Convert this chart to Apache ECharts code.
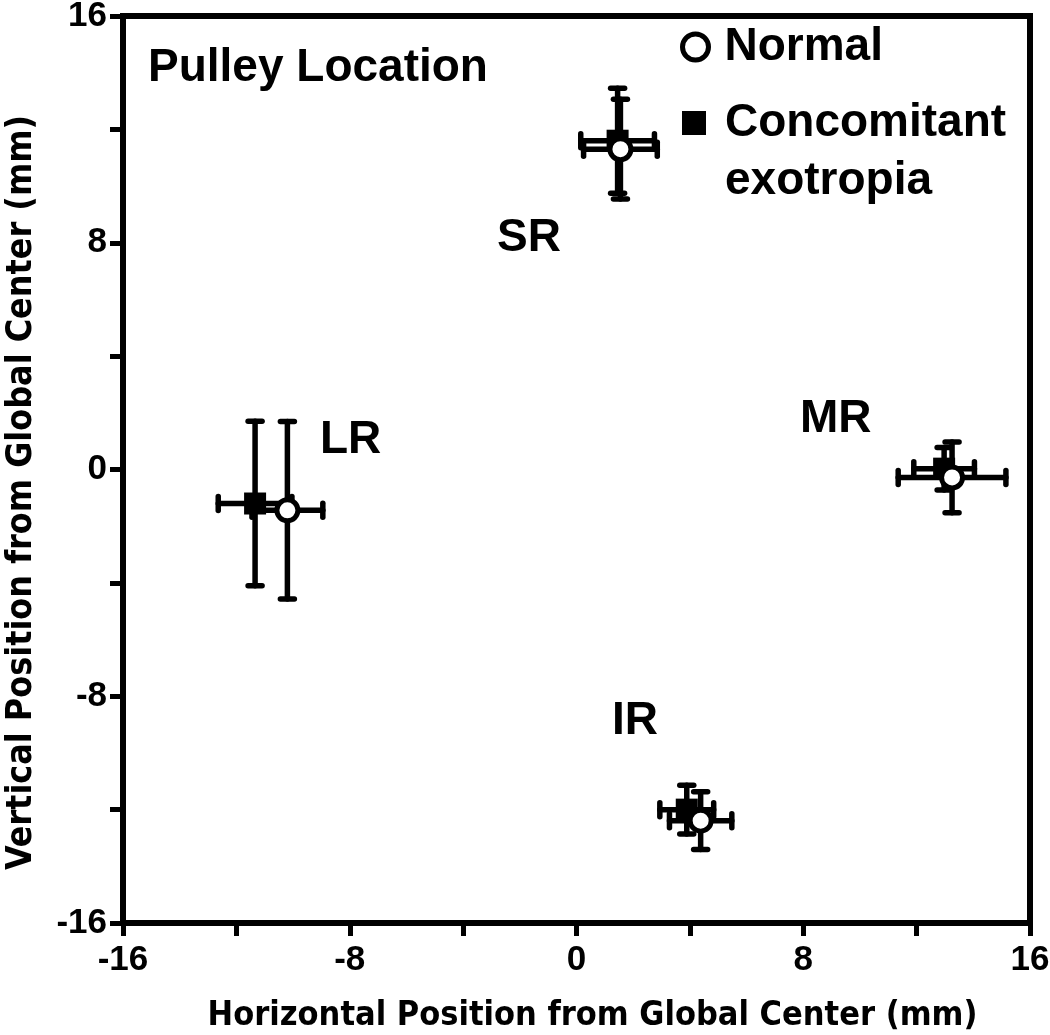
<!DOCTYPE html>
<html><head><meta charset="utf-8">
<script src="https://cdn.jsdelivr.net/npm/echarts@6/dist/echarts.min.js"></script>
<style>html,body{margin:0;padding:0;background:#fff}#c{width:1050px;height:1035px}</style>
</head><body><div id="c"></div>
<script>
const muscles = ['LR', 'SR', 'MR', 'IR'];
const normalX = [-10.2, 1.55, 13.25, 4.38];
const normalY = [-1.44, 11.3, -0.28, -12.39];
const normalXErr = [1.25, 1.3, 1.9, 1.1];
const normalYErr = [3.13, 1.76, 1.25, 1.02];
const exoX = [-11.34, 1.45, 12.97, 3.89];
const exoY = [-1.2, 11.6, 0.03, -12.0];
const exoXErr = [1.3, 1.3, 1.07, 0.95];
const exoYErr = [2.9, 1.85, 0.75, 0.86];
const axisTicks = [-16, -8, 0, 8, 16];

const FONT = '"Liberation Sans", Arial, sans-serif';
const NARROW = '"Liberation Sans Narrow", "DejaVu Sans Condensed", sans-serif';

function rows(xs, ys, xe, ye) { return xs.map((x, i) => [x, ys[i], xe[i], ye[i], muscles[i]]); }

function errRender(params, api) {
  const x = api.value(0), y = api.value(1), xe = api.value(2), ye = api.value(3);
  const l = api.coord([x - xe, y]), r = api.coord([x + xe, y]);
  const t = api.coord([x, y + ye]), b = api.coord([x, y - ye]);
  const cap = 7;
  const st = { stroke: '#000', lineWidth: 5.5, lineCap: 'round' };
  const line = (x1, y1, x2, y2) => ({ type: 'line', shape: { x1, y1, x2, y2 }, style: st });
  return { type: 'group', children: [
    line(l[0], l[1], r[0], r[1]),
    line(t[0], t[1], b[0], b[1]),
    line(l[0], l[1] - cap, l[0], l[1] + cap),
    line(r[0], r[1] - cap, r[0], r[1] + cap),
    line(t[0] - cap, t[1], t[0] + cap, t[1]),
    line(b[0] - cap, b[1], b[0] + cap, b[1])
  ]};
}

const axisCommon = {
  type: 'value', min: -16, max: 16, interval: 4,
  axisLine: { show: true, onZero: false, lineStyle: { color: '#000', width: 6 } },
  axisTick: { show: true, inside: false, length: 13, lineStyle: { color: '#000', width: 5 } },
  splitLine: { show: false },
  axisLabel: { color: '#000', fontFamily: FONT, fontWeight: 'bold', fontSize: 35,
    formatter: v => (axisTicks.indexOf(v) >= 0 ? String(v) : '') },
  nameLocation: 'middle'
};

const legendText = { color: '#000', fontFamily: FONT, fontWeight: 'bold', fontSize: 46, lineHeight: 58 };

const chart = echarts.init(document.getElementById('c'));
chart.setOption({
  animation: false,
  backgroundColor: '#fff',
  grid: { left: 123, right: 20, top: 16, bottom: 112, show: true, borderColor: '#000', borderWidth: 6,
    outerBoundsMode: 'none', containLabel: false },
  xAxis: Object.assign({}, axisCommon, {
    name: 'Horizontal Position from Global Center (mm)', nameGap: 76,
    nameTextStyle: { color: '#000', fontFamily: NARROW, fontWeight: 'bold', fontSize: 34, padding: [0, 0, 0, 32] },
    axisLabel: Object.assign({}, axisCommon.axisLabel, { margin: 20 })
  }),
  yAxis: Object.assign({}, axisCommon, {
    name: 'Vertical Position from Global Center (mm)', nameGap: 83,
    nameTextStyle: { color: '#000', fontFamily: NARROW, fontWeight: 'bold', fontSize: 35.5, padding: [0, 46, 0, 0] },
    axisLabel: Object.assign({}, axisCommon.axisLabel, { margin: 16 })
  }),
  legend: [
    { orient: 'vertical', left: 680, top: 18, padding: 0, itemWidth: 26, itemHeight: 26,
      textStyle: Object.assign({}, legendText, { padding: [0, 0, 0, 11] }),
      data: [{ name: 'Normal', icon: 'circle', itemStyle: { color: '#fff', borderColor: '#000', borderWidth: 5 } }] },
    { orient: 'vertical', left: 682, top: 36, padding: 0, itemWidth: 24, itemHeight: 24,
      textStyle: Object.assign({}, legendText, { padding: [0, 0, 0, 14] }),
      data: [{ name: 'Concomitant exotropia', icon: 'rect', itemStyle: { color: '#000', borderWidth: 0, opacity: 1 } }],
      formatter: n => ' \n' + n.replace(' ', '\n') }
  ],
  series: [
    { type: 'custom', name: 'exoErr', renderItem: errRender, data: rows(exoX, exoY, exoXErr, exoYErr), z: 2 },
    { type: 'scatter', name: 'Concomitant exotropia', symbol: 'rect', symbolSize: 22,
      itemStyle: { color: '#000', opacity: 1 }, data: rows(exoX, exoY, exoXErr, exoYErr), z: 3 },
    { type: 'custom', name: 'normErr', renderItem: errRender, data: rows(normalX, normalY, normalXErr, normalYErr), z: 4 },
    { type: 'scatter', name: 'Normal', symbol: 'circle', symbolSize: 21,
      itemStyle: { color: '#fff', borderColor: '#000', borderWidth: 5, opacity: 1 },
      data: rows(normalX, normalY, normalXErr, normalYErr), z: 5 }
  ],
  graphic: [
    { type: 'text', left: 148, top: 45, style: { text: 'Pulley Location', font: 'bold 46px ' + FONT, fill: '#000' } },
    { type: 'text', left: 320, top: 417, style: { text: 'LR', font: 'bold 46px ' + FONT, fill: '#000' } },
    { type: 'text', left: 497, top: 215, style: { text: 'SR', font: 'bold 46px ' + FONT, fill: '#000' } },
    { type: 'text', left: 800, top: 396, style: { text: 'MR', font: 'bold 46px ' + FONT, fill: '#000' } },
    { type: 'text', left: 612, top: 698, style: { text: 'IR', font: 'bold 46px ' + FONT, fill: '#000' } }
  ]
});
</script></body></html>
